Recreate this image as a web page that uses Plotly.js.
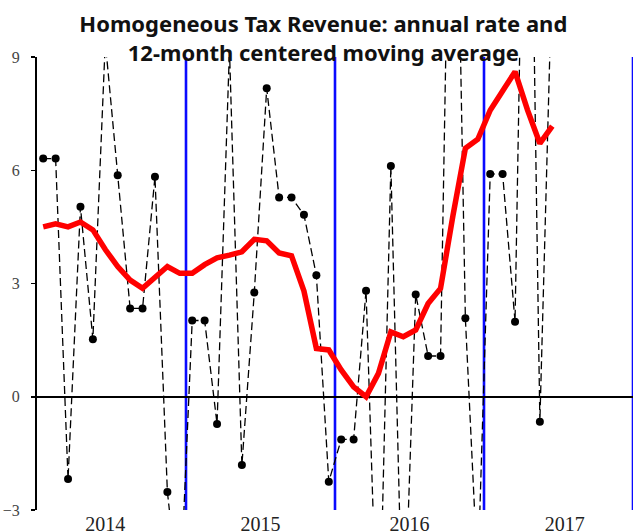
<!DOCTYPE html>
<html>
<head>
<meta charset="utf-8">
<script src="https://cdn.plot.ly/plotly-3.0.1.min.js"></script>
<style>html,body{margin:0;padding:0;background:#fff;}#chart{width:634px;height:532px;}</style>
</head>
<body>
<div id="chart"></div>
<script>
// Month index (0 = Jan 2014)
const months = [0,1,2,3,4,5,6,7,8,9,10,11,12,13,14,15,16,17,18,19,20,21,22,23,24,25,26,27,28,29,30,31,32,33,34,35,36,37,38,39,40,41];
// Annual rate (dashed line with markers)
const annualRate = [6.31, 6.31, -2.18, 5.03, 1.52, 9.4, 5.87, 2.34, 2.34, 5.83, -2.52, -5.5,
                    2.02, 2.02, -0.72, 9.2, -1.81, 2.76, 8.17, 5.28, 5.28, 4.82, 3.22, -2.25,
                    -1.13, -1.13, 2.81, -7.5, 6.11, -7.0, 2.71, 1.08, 1.08, 20.0, 2.08, -4.8,
                    5.9, 5.9, 1.99, 21.0, -0.66, 11.5];
// 12-month centered moving average (red line)
const movingAvg = [4.50, 4.58, 4.50, 4.63, 4.42, 3.90, 3.45, 3.09, 2.87, 3.18, 3.45, 3.27,
                   3.27, 3.50, 3.68, 3.75, 3.84, 4.17, 4.13, 3.81, 3.73, 2.80, 1.28, 1.24,
                   0.71, 0.26, 0.00, 0.62, 1.72, 1.59, 1.77, 2.47, 2.87, 4.80, 6.58, 6.82,
                   7.59, 8.10, 8.61, 7.60, 6.71, 7.17];
// Year boundaries (blue vertical lines)
const yearBoundaries = [11.5, 23.5, 35.5, 47.5];
// Year labels
const yearLabelPos = [5, 17.5, 29.5, 42];
const yearLabels = ["2014", "2015", "2016", "2017"];
const yTicks = [-3, 0, 3, 6, 9];

const serif = "'Liberation Serif', 'Times New Roman', serif";

const traces = [
  {
    x: months, y: annualRate, type: 'scatter', mode: 'lines+markers',
    line: {color: 'black', width: 1.3, dash: '8px,4px'},
    marker: {color: 'black', size: 8},
    hoverinfo: 'skip', showlegend: false
  },
  {
    x: months, y: movingAvg, type: 'scatter', mode: 'lines',
    line: {color: '#ff0000', width: 5.5},
    hoverinfo: 'skip', showlegend: false
  }
];

const shapes = yearBoundaries.map(b => ({
  type: 'line', xref: 'x', yref: 'paper', x0: b, x1: b, y0: 0, y1: 1,
  line: {color: '#0a0aff', width: 2.6}, layer: 'below'
}));

const layout = {
  width: 634, height: 532,
  margin: {l: 37, r: 1, t: 57, b: 22},
  paper_bgcolor: '#fff', plot_bgcolor: '#fff',
  showlegend: false,
  title: {
    text: '<b>Homogeneous Tax Revenue: annual rate and<br>12-month centered moving average</b>',
    font: {family: "'Noto Sans', sans-serif", size: 22, color: '#111'},
    xref: 'container', x: 0.51, xanchor: 'center',
    yref: 'container', y: 0.94, yanchor: 'top'
  },
  xaxis: {
    range: [-0.5, 47.5], showgrid: false, zeroline: false, showline: false,
    ticks: '', tickvals: yearLabelPos, ticktext: yearLabels,
    tickfont: {family: serif, size: 20, color: '#222'},
    fixedrange: true
  },
  yaxis: {
    range: [-3, 9], showgrid: false,
    zeroline: true, zerolinecolor: 'black', zerolinewidth: 2,
    showline: true, linecolor: 'black', linewidth: 2,
    ticks: 'outside', ticklen: 4, tickcolor: 'black', tickwidth: 1.5,
    tickvals: yTicks, ticklabelstandoff: 8,
    tickfont: {family: serif, size: 16, color: '#444'},
    fixedrange: true
  },
  shapes: shapes
};

Plotly.newPlot('chart', traces, layout, {displayModeBar: false, staticPlot: true});
</script>
</body>
</html>
